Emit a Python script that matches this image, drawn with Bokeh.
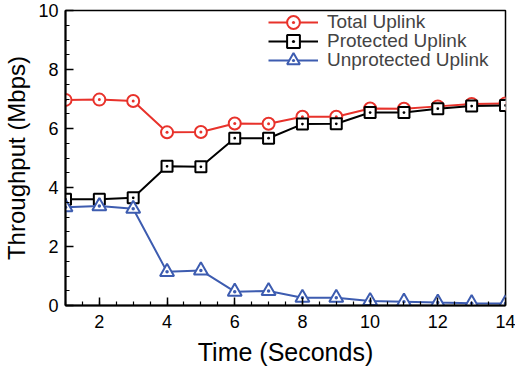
from bokeh.plotting import figure
from bokeh.models import Range1d, SingleIntervalTicker, Legend, LegendItem
from bokeh.embed import file_html
from bokeh.resources import INLINE

time_s = [1, 2, 3, 4, 5, 6, 7, 8, 9, 10, 11, 12, 13, 14]
total_uplink = [6.97, 6.98, 6.93, 5.87, 5.88, 6.17, 6.16, 6.40, 6.40, 6.68, 6.67, 6.75, 6.83, 6.85]
protected_uplink = [3.60, 3.60, 3.65, 4.72, 4.70, 5.67, 5.67, 6.15, 6.16, 6.54, 6.54, 6.67, 6.76, 6.78]
unprotected_uplink = [3.33, 3.37, 3.28, 1.14, 1.19, 0.47, 0.49, 0.26, 0.26, 0.15, 0.13, 0.10, 0.08, 0.07]
series_labels = ["Total Uplink", "Protected Uplink", "Unprotected Uplink"]

RED = "#e8322b"
BLACK = "#000000"
BLUE = "#3d5cb0"
FONT = "Liberation Sans"

p = figure(width=515, height=373, output_backend="svg", toolbar_location=None,
           x_range=Range1d(1, 14), y_range=Range1d(0, 10),
           min_border_left=65, min_border_right=10, min_border_top=10, min_border_bottom=68)
p.grid.visible = False
p.outline_line_color = "black"
p.outline_line_width = 1.5
p.background_fill_color = "white"
p.border_fill_color = "white"

p.xaxis.ticker = SingleIntervalTicker(interval=2, num_minor_ticks=4)
p.yaxis.ticker = SingleIntervalTicker(interval=2, num_minor_ticks=4)
for ax in (p.xaxis, p.yaxis):
    ax.major_tick_in = 8
    ax.major_tick_out = 0
    ax.minor_tick_in = 4
    ax.minor_tick_out = 0
    ax.axis_line_width = 2
    ax.major_tick_line_width = 1.5
    ax.minor_tick_line_width = 1.2
    ax.major_label_text_font = FONT
    ax.major_label_text_font_size = "18px"
    ax.major_label_text_color = "black"
    ax.axis_label_text_font = FONT
    ax.axis_label_text_font_style = "normal"
    ax.axis_label_text_color = "black"
p.xaxis.axis_label = "Time (Seconds)"
p.yaxis.axis_label = "Throughput (Mbps)"
p.xaxis.axis_label_text_font_size = "25px"
p.yaxis.axis_label_text_font_size = "24px"
p.xaxis.major_label_standoff = 9
p.yaxis.major_label_standoff = 7
p.xaxis.axis_label_standoff = 7
p.yaxis.axis_label_standoff = 5

l1 = p.line(time_s, total_uplink, line_color=RED, line_width=2)
m1 = p.scatter(time_s, total_uplink, marker="circle_dot", size=12, line_color=RED,
               fill_color="white", line_width=2)
l2 = p.line(time_s, protected_uplink, line_color=BLACK, line_width=2)
m2 = p.scatter(time_s, protected_uplink, marker="square_dot", size=11, line_color=BLACK,
               fill_color="white", line_width=2)
l3 = p.line(time_s, unprotected_uplink, line_color=BLUE, line_width=2)
m3 = p.scatter(time_s, unprotected_uplink, marker="triangle_dot", size=14, line_color=BLUE,
               fill_color="white", line_width=2)

# one single-item legend per row so rows can be packed tightly with large glyphs
for label, rends, ypos in zip(series_labels, [[l1, m1], [l2, m2], [l3, m3]], [267, 248, 229]):
    lg = Legend(items=[LegendItem(label=label, renderers=rends)], location=(203, ypos))
    lg.border_line_color = None
    lg.background_fill_alpha = 0
    lg.label_text_font = FONT
    lg.label_text_font_size = "19px"
    lg.glyph_width = 50
    lg.glyph_height = 32
    lg.label_height = 20
    lg.padding = 0
    lg.margin = 0
    lg.label_standoff = 9
    p.add_layout(lg, "center")

open("out.html", "w").write(file_html(p, INLINE))
